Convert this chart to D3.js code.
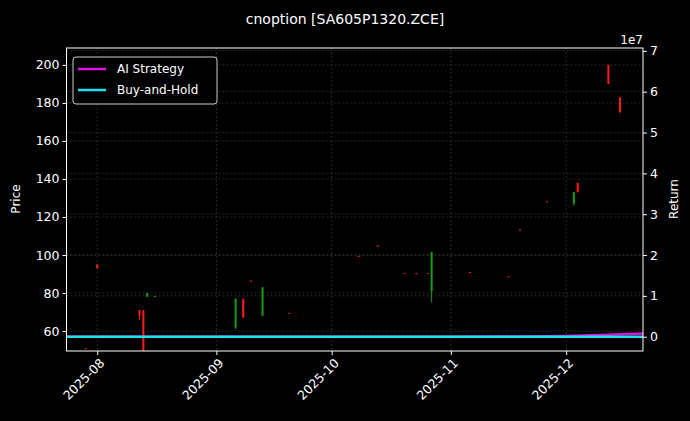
<!DOCTYPE html>
<html><head><meta charset="utf-8">
<script src="https://cdn.jsdelivr.net/npm/d3@7"></script>
<style>body{margin:0;background:#000}text{font-family:"DejaVu Sans",sans-serif}</style>
</head><body><div id="chart"></div>
<script>
// candles: date, open, close, high, low
const dates = ["2025-07-29","2025-08-01","2025-08-12","2025-08-13","2025-08-14","2025-08-16","2025-09-06","2025-09-08","2025-09-10","2025-09-13","2025-09-20","2025-10-08","2025-10-13","2025-10-20","2025-10-23","2025-10-26","2025-10-27","2025-11-06","2025-11-16","2025-11-19","2025-11-26","2025-12-03","2025-12-04","2025-12-12","2025-12-15"];
const opens  = [51, 95, 71, 71, 78, 78, 62, 77, 86.5, 68, 69.5, 99.5, 105, 90.5, 90.5, 90.5, 81, 91, 88.8, 113.5, 128.3, 127, 138, 200, 183];
const closes = [50.5, 93, 68, 48, 80, 78.5, 77, 67, 86, 83, 69, 99, 104.5, 90, 90, 90, 101.5, 90.5, 88.4, 113, 128, 133, 133, 190, 175];
const highs  = [51, 95, 71, 71, 80, 78.5, 77, 77, 86.5, 83, 69.5, 99.5, 105, 90.5, 90.5, 90.5, 101.5, 91, 88.8, 113.5, 128.3, 133, 138, 200, 183];
const lows   = [50.5, 93, 66, 40, 78, 78, 61, 67, 86, 68, 69, 99, 104.5, 90, 90, 90, 75, 90.5, 88.4, 113, 128, 126, 133, 190, 175];
// returns (x1e7)
const retDates = ["2025-07-24","2025-09-01","2025-10-01","2025-11-01","2025-11-20","2025-12-01","2025-12-10","2025-12-21"];
const aiReturn = [0, 0, 0, 0, 0.005, 0.015, 0.04, 0.08];
const bhReturn = [0, 0, 0, 0, 0, 0, 0, 0];

const W = 690, H = 421, m = {l: 66.5, r: 47, t: 48, b: 70};
const svg = d3.select("#chart").append("svg").attr("width", W).attr("height", H).style("background", "#000");
const p = d3.timeParse("%Y-%m-%d");
const x = d3.scaleTime().domain([p("2025-07-24"), p("2025-12-21")]).range([m.l, W - m.r]);
const y = d3.scaleLinear().domain([49.5, 208.9]).range([H - m.b, m.t]);
const y2 = d3.scaleLinear().domain([-0.35, 7.07]).range([H - m.b, m.t]);

const gridG = svg.append("g").attr("stroke", "#444").attr("stroke-dasharray", "2,2").attr("stroke-width", 0.6);
const xt = d3.timeMonth.range(p("2025-08-01"), p("2025-12-02"));
xt.forEach(d => gridG.append("line").attr("x1", x(d)).attr("x2", x(d)).attr("y1", m.t).attr("y2", H - m.b));
d3.range(60, 201, 20).forEach(v => gridG.append("line").attr("x1", m.l).attr("x2", W - m.r).attr("y1", y(v)).attr("y2", y(v)));
d3.range(0, 8).forEach(v => gridG.append("line").attr("x1", m.l).attr("x2", W - m.r).attr("y1", y2(v)).attr("y2", y2(v)));

const plot = svg.append("g");
svg.append("clipPath").attr("id", "c").append("rect").attr("x", m.l).attr("y", m.t).attr("width", W - m.r - m.l).attr("height", H - m.b - m.t);
plot.attr("clip-path", "url(#c)");
dates.forEach((d, i) => {
  const col = closes[i] >= opens[i] ? "#1a9a1a" : "#ff1a1a";
  const cx = x(p(d));
  plot.append("line").attr("x1", cx).attr("x2", cx).attr("y1", y(highs[i])).attr("y2", y(lows[i])).attr("stroke", col).attr("stroke-width", 1);
  const top = y(Math.max(opens[i], closes[i])), bot = y(Math.min(opens[i], closes[i]));
  plot.append("rect").attr("x", cx - 1).attr("width", 2).attr("y", top).attr("height", Math.max(1, bot - top)).attr("fill", col);
});
const line = d3.line().x((d, i) => x(p(retDates[i]))).y(d => y2(d));
plot.append("path").datum(aiReturn).attr("d", line).attr("fill", "none").attr("stroke", "#e010e0").attr("stroke-width", 2.5);
plot.append("path").datum(bhReturn).attr("d", line).attr("fill", "none").attr("stroke", "#20e0f0").attr("stroke-width", 2.5);

const ax = svg.append("g").attr("transform", `translate(0,${H - m.b})`).call(d3.axisBottom(x).tickValues(xt).tickFormat(d3.timeFormat("%Y-%m")).tickSize(4));
ax.selectAll("text").attr("transform", "rotate(-45)").style("text-anchor", "end").attr("dx", "-0.3em").attr("dy", "0.6em");
svg.append("g").attr("transform", `translate(${m.l},0)`).call(d3.axisLeft(y).tickValues(d3.range(60, 201, 20)).tickSize(4));
svg.append("g").attr("transform", `translate(${W - m.r},0)`).call(d3.axisRight(y2).tickValues(d3.range(0, 8)).tickSize(4));
svg.selectAll(".domain").remove();
svg.selectAll(".tick line").attr("stroke", "#fff");
svg.selectAll(".tick text").attr("fill", "#fff").style("font-size", "12.5px");
svg.append("rect").attr("x", m.l).attr("y", m.t).attr("width", W - m.r - m.l).attr("height", H - m.b - m.t).attr("fill", "none").attr("stroke", "#fff");

svg.append("text").attr("x", 345).attr("y", 24).attr("text-anchor", "middle").attr("fill", "#fff").style("font-size", "14px").text("cnoption [SA605P1320.ZCE]");
svg.append("text").attr("transform", "translate(20,199) rotate(-90)").attr("text-anchor", "middle").attr("fill", "#fff").style("font-size", "12px").text("Price");
svg.append("text").attr("transform", "translate(678,199) rotate(-90)").attr("text-anchor", "middle").attr("fill", "#fff").style("font-size", "12px").text("Return");
svg.append("text").attr("x", 643).attr("y", 44).attr("text-anchor", "end").attr("fill", "#fff").style("font-size", "12px").text("1e7");

const lg = svg.append("g").attr("transform", "translate(73,57)");
lg.append("rect").attr("width", 144).attr("height", 47).attr("rx", 3).attr("fill", "#000").attr("stroke", "#ccc");
[["AI Strategy", "#e010e0"], ["Buy-and-Hold", "#20e0f0"]].forEach(([t, c], i) => {
  lg.append("line").attr("x1", 5).attr("x2", 33).attr("y1", 12 + i * 21).attr("y2", 12 + i * 21).attr("stroke", c).attr("stroke-width", 2.5);
  lg.append("text").attr("x", 44).attr("y", 16 + i * 21).attr("fill", "#fff").style("font-size", "12px").text(t);
});
</script></body></html>
